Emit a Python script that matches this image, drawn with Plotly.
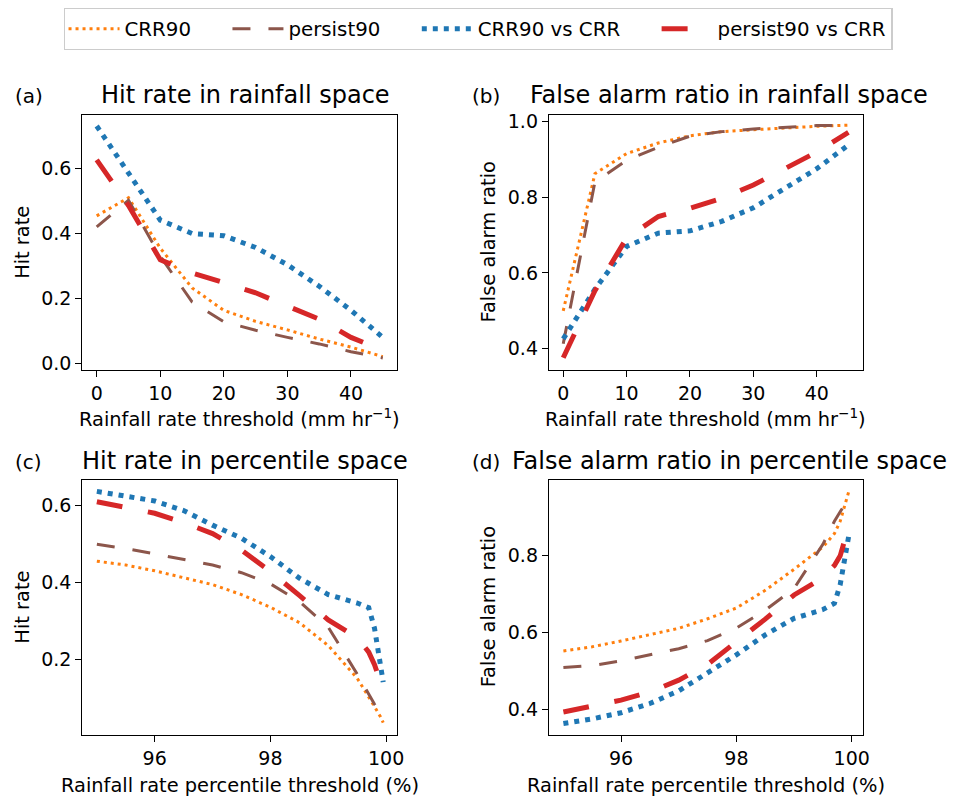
import plotly.graph_objects as go

W, H = 961, 798

# ---------------- data ----------------
series_names = ["CRR90", "persist90", "CRR90 vs CRR", "persist90 vs CRR"]

x_rain = [0, 5, 10, 15, 20, 25, 30, 35, 40, 45]
x_pct = [95, 95.5, 96, 96.5, 97, 97.5, 98, 98.5, 99, 99.5, 99.7, 99.8, 99.9, 99.95]

# (a) hit rate in rainfall space
crr90_hit_rain = [0.454, 0.510, 0.355, 0.233, 0.164, 0.130, 0.104, 0.076, 0.051, 0.022]
persist90_hit_rain = [0.420, 0.502, 0.330, 0.190, 0.129, 0.103, 0.081, 0.061, 0.037, 0.018]
crr90_vs_crr_hit_rain = [0.730, 0.588, 0.441, 0.400, 0.393, 0.357, 0.304, 0.238, 0.164, 0.081]
persist90_vs_crr_hit_rain = [0.626, 0.486, 0.319, 0.279, 0.249, 0.218, 0.177, 0.137, 0.081, 0.041]

# (b) false alarm ratio in rainfall space
crr90_far_rain = [0.500, 0.862, 0.915, 0.943, 0.962, 0.973, 0.978, 0.983, 0.987, 0.990]
persist90_far_rain = [0.413, 0.840, 0.897, 0.932, 0.961, 0.973, 0.980, 0.984, 0.989, 0.990]
crr90_vs_crr_far_rain = [0.426, 0.557, 0.670, 0.705, 0.711, 0.736, 0.772, 0.823, 0.875, 0.938]
persist90_vs_crr_far_rain = [0.376, 0.553, 0.692, 0.749, 0.771, 0.797, 0.832, 0.875, 0.919, 0.971]

# (c) hit rate in percentile space
crr90_hit_pct = [0.455, 0.445, 0.430, 0.413, 0.394, 0.368, 0.335, 0.295, 0.235, 0.150, 0.102, 0.076, 0.050, 0.034]
persist90_hit_pct = [0.499, 0.488, 0.474, 0.460, 0.445, 0.425, 0.396, 0.350, 0.283, 0.161, 0.107, 0.082, 0.060, 0.050]
crr90_vs_crr_hit_pct = [0.637, 0.625, 0.612, 0.587, 0.549, 0.515, 0.467, 0.411, 0.368, 0.346, 0.334, 0.280, 0.190, 0.140]
persist90_vs_crr_hit_pct = [0.610, 0.594, 0.580, 0.556, 0.527, 0.484, 0.428, 0.366, 0.302, 0.256, 0.218, 0.185, 0.140, 0.120]

# (d) false alarm ratio in percentile space
crr90_far_pct = [0.552, 0.563, 0.578, 0.594, 0.611, 0.636, 0.664, 0.710, 0.765, 0.823, 0.858, 0.890, 0.940, 0.968]
persist90_far_pct = [0.509, 0.514, 0.526, 0.541, 0.558, 0.579, 0.612, 0.658, 0.715, 0.830, 0.890, 0.915, 0.940, 0.950]
crr90_vs_crr_far_pct = [0.363, 0.375, 0.391, 0.415, 0.448, 0.495, 0.542, 0.594, 0.637, 0.660, 0.676, 0.725, 0.810, 0.853]
persist90_vs_crr_far_pct = [0.393, 0.408, 0.424, 0.445, 0.476, 0.517, 0.574, 0.635, 0.698, 0.743, 0.775, 0.800, 0.852, 0.870]

x_ticks_rain = [0, 10, 20, 30, 40]
x_ticks_pct = [96, 98, 100]
y_ticks_a = [0.0, 0.2, 0.4, 0.6]
y_ticks_b = [0.4, 0.6, 0.8, 1.0]
y_ticks_c = [0.2, 0.4, 0.6]
y_ticks_d = [0.4, 0.6, 0.8]

panel_titles = ["Hit rate in rainfall space", "False alarm ratio in rainfall space",
                "Hit rate in percentile space", "False alarm ratio in percentile space"]
panel_letters = ["(a)", "(b)", "(c)", "(d)"]
x_titles = ["Rainfall rate threshold (mm hr<sup>\u22121</sup>)", "Rainfall rate threshold (mm hr<sup>\u22121</sup>)",
            "Rainfall rate percentile threshold (%)", "Rainfall rate percentile threshold (%)"]
y_titles = ["Hit rate", "False alarm ratio", "Hit rate", "False alarm ratio"]

# ---------------- styles ----------------
styles = [
    dict(color="#ff7f0e", width=3, dash="3px,4px"),
    dict(color="#8c564b", width=3, dash="18px,18px"),
    dict(color="#1f77b4", width=5, dash="5px,6px"),
    dict(color="#d62728", width=5, dash="26px,26px"),
]

panels = [
    (x_rain, [crr90_hit_rain, persist90_hit_rain, crr90_vs_crr_hit_rain, persist90_vs_crr_hit_rain]),
    (x_rain, [crr90_far_rain, persist90_far_rain, crr90_vs_crr_far_rain, persist90_vs_crr_far_rain]),
    (x_pct, [crr90_hit_pct, persist90_hit_pct, crr90_vs_crr_hit_pct, persist90_vs_crr_hit_pct]),
    (x_pct, [crr90_far_pct, persist90_far_pct, crr90_vs_crr_far_pct, persist90_vs_crr_far_pct]),
]

# pixel boxes of axes: (left, right, top, bottom)
boxes = [(83, 400, 111.7, 370), (553, 869, 111.7, 370),
         (83, 400, 480.7, 738), (553, 869, 480.7, 738)]
x_ranges = [[-2.25, 47.25], [-2.25, 47.25], [94.75, 100.19], [94.75, 100.19]]
y_ranges = [[-0.02, 0.765], [0.343, 1.018], [0.003, 0.667], [0.334, 0.998]]
x_ticks = [x_ticks_rain, x_ticks_rain, x_ticks_pct, x_ticks_pct]
y_ticks = [y_ticks_a, y_ticks_b, y_ticks_c, y_ticks_d]


def px_x(p):
    return p / W


def px_y(p):
    return 1 - p / H


FONT = "DejaVu Sans"
NBSP = "\u00a0"
legend_pad = [5, 5, 5, 0]

fig = go.Figure()

for i, (xs, ys_list) in enumerate(panels):
    n = i + 1
    for j, ys in enumerate(ys_list):
        fig.add_trace(go.Scatter(
            x=xs, y=ys, mode="lines", name=series_names[j] + NBSP * legend_pad[j],
            line=styles[j], showlegend=(i == 0), legendgroup=series_names[j],
            xaxis="x%d" % n, yaxis="y%d" % n,
        ))

axis_common = dict(showline=True, linecolor="black", linewidth=1.4, mirror=True,
                   ticks="outside", ticklen=6, tickwidth=1.4, tickcolor="black",
                   showgrid=False, zeroline=False,
                   tickfont=dict(family=FONT, size=19, color="black"))

layout = dict(width=W, height=H, margin=dict(l=0, r=0, t=0, b=0),
              paper_bgcolor="white", plot_bgcolor="white",
              font=dict(family=FONT, color="black"))
for i in range(4):
    n = i + 1
    l, r, t, b = boxes[i]
    sx = "" if n == 1 else str(n)
    layout["xaxis" + sx] = dict(axis_common, domain=[px_x(l), px_x(r)], range=x_ranges[i],
                                tickvals=x_ticks[i], anchor="y" + sx)
    layout["yaxis" + sx] = dict(axis_common, domain=[px_y(b), px_y(t)], range=y_ranges[i],
                                tickvals=y_ticks[i], tickformat=".1f", anchor="x" + sx)

fig.update_layout(**layout)

ann = []
title_left = [99.5, 532, 80.5, 514]
letter_left = [12.7, 473, 12.7, 473]
title_mid = [91.5, 91.5, 461.2, 461.2]
letter_mid = [93.0, 93.0, 462.4, 462.4]
xlab_mid = [418.5, 418.5, 789, 789]
ylab_x = [22.6, 491.6, 22.6, 491.6]
for i in range(4):
    l, r, t, b = boxes[i]
    ann.append(dict(text=panel_titles[i], x=px_x(title_left[i]), y=px_y(title_mid[i]),
                    xanchor="left", yanchor="middle", font=dict(size=24)))
    ann.append(dict(text=panel_letters[i], x=px_x(letter_left[i]), y=px_y(letter_mid[i]),
                    xanchor="left", yanchor="middle", font=dict(size=20)))
    ann.append(dict(text=x_titles[i], x=px_x((l + r) / 2), y=px_y(xlab_mid[i]),
                    xanchor="center", yanchor="middle", font=dict(size=19.4)))
    ann.append(dict(text=y_titles[i], x=px_x(ylab_x[i]), y=px_y((t + b) / 2),
                    xanchor="center", yanchor="middle", textangle=-90, font=dict(size=19.4)))
for a in ann:
    a.update(xref="paper", yref="paper", showarrow=False)
    a["font"].update(family=FONT, color="black")
fig.update_layout(annotations=ann)

fig.update_layout(legend=dict(
    orientation="h", x=px_x(64), y=px_y(4), xanchor="left", yanchor="top",
    bordercolor="#cccccc", borderwidth=1.3, bgcolor="white",
    font=dict(family=FONT, size=19.8, color="black"), itemwidth=51,
))

fig.write_html("out.html", config={"displayModeBar": False},
               post_script="document.body.style.margin='0';document.body.style.overflow='hidden';")
